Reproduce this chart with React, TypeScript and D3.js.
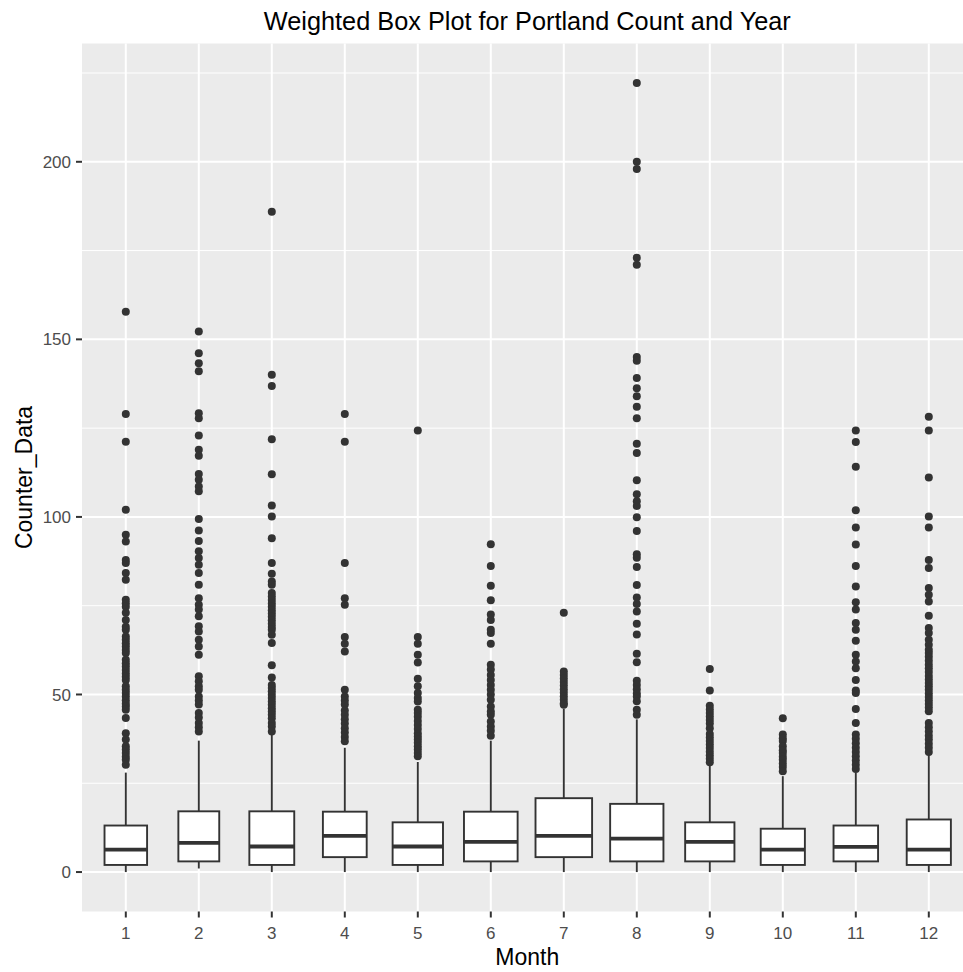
import { useEffect, useRef } from "react";
import * as d3 from "d3";

const months = ["1", "2", "3", "4", "5", "6", "7", "8", "9", "10", "11", "12"];

// box statistics
const lowerWhisker = [0, 1, 0, 0, 0, 0, 0, 0, 0, 0, 0, 0];
const q1 = [2, 3, 2, 4.2, 2, 3, 4.2, 3, 3, 2, 3, 2];
const medians = [6.3, 8.2, 7.2, 10.2, 7.2, 8.5, 10.2, 9.4, 8.5, 6.3, 7.1, 6.3];
const q3 = [13.1, 17.1, 17.1, 17, 14, 17, 20.8, 19.2, 14, 12.2, 13.1, 14.8];
const upperWhisker = [28, 37, 39, 35, 31, 37, 46, 43, 30, 27, 28, 33];
// weighted box widths, as share of the spacing between months
const boxWidths = [0.583, 0.56, 0.615, 0.6, 0.69, 0.735, 0.775, 0.73, 0.675, 0.605, 0.61, 0.605];

const out1 = [157.8, 129, 121.2, 102, 95, 93.1, 87.9, 87, 84.2, 82.3, 76.7, 75.7, 74.7, 73, 71, 69.1, 68.2,
  66.3, 65.4, 64.4, 63.5, 62.5, 61.7, 59.8, 58.8, 57.9, 56.9, 55.9, 55, 54.1, 52.3, 51.3, 50.4, 49.4, 48.4,
  47.4, 46.6, 45.7, 43.4, 39.1, 37.3, 35.4, 34.5, 33.5, 32.5, 31.6, 30.2];
const out2 = [152.2, 146.1, 143.3, 141, 129.2, 127.8, 122.9, 118.9, 117.2, 112.1, 110.5, 108.6, 107.2, 99.4,
  96.2, 93.2, 90.3, 88.4, 86.5, 84.2, 80.9, 77.1, 75.3, 73.9, 72, 69.2, 67.7, 65.4, 63.5, 61.2, 55.1, 53.7,
  52.3, 51.3, 49.4, 48.3, 47.2, 44.8, 43.5, 42, 40.8, 39.6];
const out3 = [185.9, 140, 136.9, 121.9, 112, 103.2, 100.1, 94, 87, 84, 81.8, 80.9, 78.6, 77.6, 76.6, 75.6,
  74.7, 73.7, 72.8, 71.9, 70.9, 69.9, 69, 68.2, 66.8, 64.5, 58.2, 54.8, 52.7, 51.8, 50.9, 49.9, 49, 48, 47.1,
  46.1, 45.2, 44.3, 43.3, 42, 41, 39.6];
const out4 = [129, 121.2, 87, 77.1, 75.3, 66.2, 64.3, 62.1, 51.3, 49.4, 48.3, 47.2, 45.5, 44.3, 43, 41.8,
  40.5, 39.3, 38, 36.8];
const out5 = [124.3, 66.2, 64.3, 61.2, 59, 54.4, 52.3, 50.4, 49, 48, 45.7, 44.8, 43.7, 42.5, 41.4, 40.3,
  39.1, 38.2, 37.3, 36.4, 35.4, 34.5, 33.5, 32.6];
const out6 = [92.3, 86.2, 80.6, 76.5, 72.5, 71, 68.2, 67.3, 64.3, 58.4, 57, 55.5, 54.1, 52.7, 51.3, 50,
  48.5, 46.6, 45.2, 44.3, 42.4, 41, 39.8, 38.4];
const out7 = [73, 56.5, 55.5, 54.5, 53.5, 52.5, 51.5, 50.5, 49.5, 48.5, 47.5, 47.1];
const out8 = [222.2, 200, 198, 173, 171, 145, 144, 139.1, 136.2, 134, 131, 127.8, 120.6, 118, 110.3, 106.4,
  104.4, 103.1, 99.9, 96, 89.5, 88.5, 85.9, 80.8, 77.3, 75.5, 73.4, 69.9, 66.9, 61.5, 59.1, 53.9, 52.7,
  51.5, 50.3, 49.4, 48.1, 45.7, 44.3];
const out9 = [57.2, 51.1, 46.8, 45.8, 44.8, 43.8, 42.8, 41.8, 40.5, 38.9, 37.9, 36.9, 35.9, 34.9, 33.9,
  32.9, 31.9, 30.9];
const out10 = [43.3, 38.7, 37.7, 36.9, 35.4, 34.3, 33.5, 32.5, 31.6, 30.6, 29.6, 28.4];
const out11 = [124.3, 121.1, 114.1, 101.9, 97, 92.2, 86.2, 80.4, 76, 73.9, 70.1, 68.2, 65.1, 61.2, 59.3,
  57.4, 54.1, 51.1, 50.4, 45.9, 42, 38.7, 37.5, 36.3, 35, 33.8, 32.6, 31.4, 30.2, 29];
const out12 = [128.2, 124.3, 111.1, 100.1, 97, 87.9, 85.6, 80, 78.1, 76.2, 72.2, 68.7, 67.3, 65.4, 64, 62.6,
  61.7, 60.6, 59.5, 58.4, 57.4, 56.3, 55.2, 54.2, 53.2, 52.3, 51.3, 50.3, 49.3, 48.3, 47.3, 46.3, 45.3, 42,
  40.8, 39.6, 38.4, 37.3, 36.1, 35, 33.8];
const outliers = [out1, out2, out3, out4, out5, out6, out7, out8, out9, out10, out11, out12];

const yTicks = [0, 50, 100, 150, 200];
const yMinor = [25, 75, 125, 175, 225];

export default function App() {
  const ref = useRef<SVGSVGElement | null>(null);

  useEffect(() => {
    if (!ref.current) return;
    const svg = d3.select(ref.current);
    svg.selectAll("*").remove();

    const panel = { left: 82, top: 43.5, right: 972.6, bottom: 911.5 };
    const font = "'Liberation Sans', Arial, sans-serif";
    const ink = "#333333";

    const x = d3.scalePoint().domain(months).range([panel.left, panel.right]).padding(0.6);
    const step = x.step();

    const yMax = d3.max(outliers.flat()) || 0;
    const pad = yMax * 0.05;
    const y = d3.scaleLinear().domain([-pad, yMax + pad]).range([panel.bottom, panel.top]);

    svg.append("rect").attr("width", 963).attr("height", 972).attr("fill", "#ffffff");
    svg.append("rect")
      .attr("x", panel.left).attr("y", panel.top)
      .attr("width", panel.right - panel.left).attr("height", panel.bottom - panel.top)
      .attr("fill", "#EBEBEB");

    const grid = svg.append("g").attr("stroke", "#ffffff");
    grid.selectAll("line.minor").data(yMinor).join("line")
      .attr("class", "minor")
      .attr("x1", panel.left).attr("x2", panel.right)
      .attr("y1", d => y(d)).attr("y2", d => y(d))
      .attr("stroke-width", 1);
    grid.selectAll("line.major").data(yTicks).join("line")
      .attr("class", "major")
      .attr("x1", panel.left).attr("x2", panel.right)
      .attr("y1", d => y(d)).attr("y2", d => y(d))
      .attr("stroke-width", 2);
    grid.selectAll("line.vmajor").data(months).join("line")
      .attr("class", "vmajor")
      .attr("x1", d => x(d)!).attr("x2", d => x(d)!)
      .attr("y1", panel.top).attr("y2", panel.bottom)
      .attr("stroke-width", 2);

    const boxes = months.map((m, i) => ({
      m, lo: lowerWhisker[i], q1: q1[i], med: medians[i], q3: q3[i], hi: upperWhisker[i],
      w: boxWidths[i] * step,
    }));

    const g = svg.append("g");
    g.selectAll("line.wlo").data(boxes).join("line")
      .attr("class", "wlo")
      .attr("x1", d => x(d.m)!).attr("x2", d => x(d.m)!)
      .attr("y1", d => y(d.lo)).attr("y2", d => y(d.q1))
      .attr("stroke", ink).attr("stroke-width", 1.9);
    g.selectAll("line.whi").data(boxes).join("line")
      .attr("class", "whi")
      .attr("x1", d => x(d.m)!).attr("x2", d => x(d.m)!)
      .attr("y1", d => y(d.q3)).attr("y2", d => y(d.hi))
      .attr("stroke", ink).attr("stroke-width", 1.9);
    g.selectAll("rect.box").data(boxes).join("rect")
      .attr("class", "box")
      .attr("x", d => x(d.m)! - d.w / 2).attr("width", d => d.w)
      .attr("y", d => y(d.q3)).attr("height", d => y(d.q1) - y(d.q3))
      .attr("fill", "#ffffff").attr("stroke", ink).attr("stroke-width", 1.9);
    g.selectAll("line.med").data(boxes).join("line")
      .attr("class", "med")
      .attr("x1", d => x(d.m)! - d.w / 2).attr("x2", d => x(d.m)! + d.w / 2)
      .attr("y1", d => y(d.med)).attr("y2", d => y(d.med))
      .attr("stroke", ink).attr("stroke-width", 3.8);

    const pts = outliers.flatMap((arr, i) => arr.map(v => ({ m: months[i], v })));
    g.selectAll("circle").data(pts).join("circle")
      .attr("cx", d => x(d.m)!).attr("cy", d => y(d.v))
      .attr("r", 4).attr("fill", ink);

    // axes
    const ax = svg.append("g");
    ax.selectAll("line.yt").data(yTicks).join("line")
      .attr("class", "yt")
      .attr("x1", panel.left - 6).attr("x2", panel.left)
      .attr("y1", d => y(d)).attr("y2", d => y(d))
      .attr("stroke", ink).attr("stroke-width", 2);
    ax.selectAll("text.yl").data(yTicks).join("text")
      .attr("class", "yl")
      .attr("x", panel.left - 11).attr("y", d => y(d)).attr("dy", "0.36em")
      .attr("text-anchor", "end")
      .attr("font-family", font).attr("font-size", 17).attr("fill", "#4D4D4D")
      .text(d => d);
    ax.selectAll("line.xt").data(months).join("line")
      .attr("class", "xt")
      .attr("x1", d => x(d)!).attr("x2", d => x(d)!)
      .attr("y1", panel.bottom).attr("y2", panel.bottom + 6)
      .attr("stroke", ink).attr("stroke-width", 2);
    ax.selectAll("text.xl").data(months).join("text")
      .attr("class", "xl")
      .attr("x", d => x(d)!).attr("y", 939)
      .attr("text-anchor", "middle")
      .attr("font-family", font).attr("font-size", 17).attr("fill", "#4D4D4D")
      .text(d => d);

    const cx = (panel.left + panel.right) / 2;
    svg.append("text")
      .attr("x", cx).attr("y", 965).attr("text-anchor", "middle")
      .attr("font-family", font).attr("font-size", 23).attr("fill", "#000000")
      .text("Month");
    svg.append("text")
      .attr("transform", `translate(32, ${(panel.top + panel.bottom) / 2}) rotate(-90)`)
      .attr("text-anchor", "middle")
      .attr("font-family", font).attr("font-size", 23).attr("fill", "#000000")
      .text("Counter_Data");
    svg.append("text")
      .attr("x", cx).attr("y", 30).attr("text-anchor", "middle")
      .attr("font-family", font).attr("font-size", 25.3).attr("fill", "#000000")
      .text("Weighted Box Plot for Portland Count and Year");
  }, []);

  return (
    <svg ref={ref} width={963} height={972} style={{ position: "absolute", left: 0, top: 0 }} />
  );
}
